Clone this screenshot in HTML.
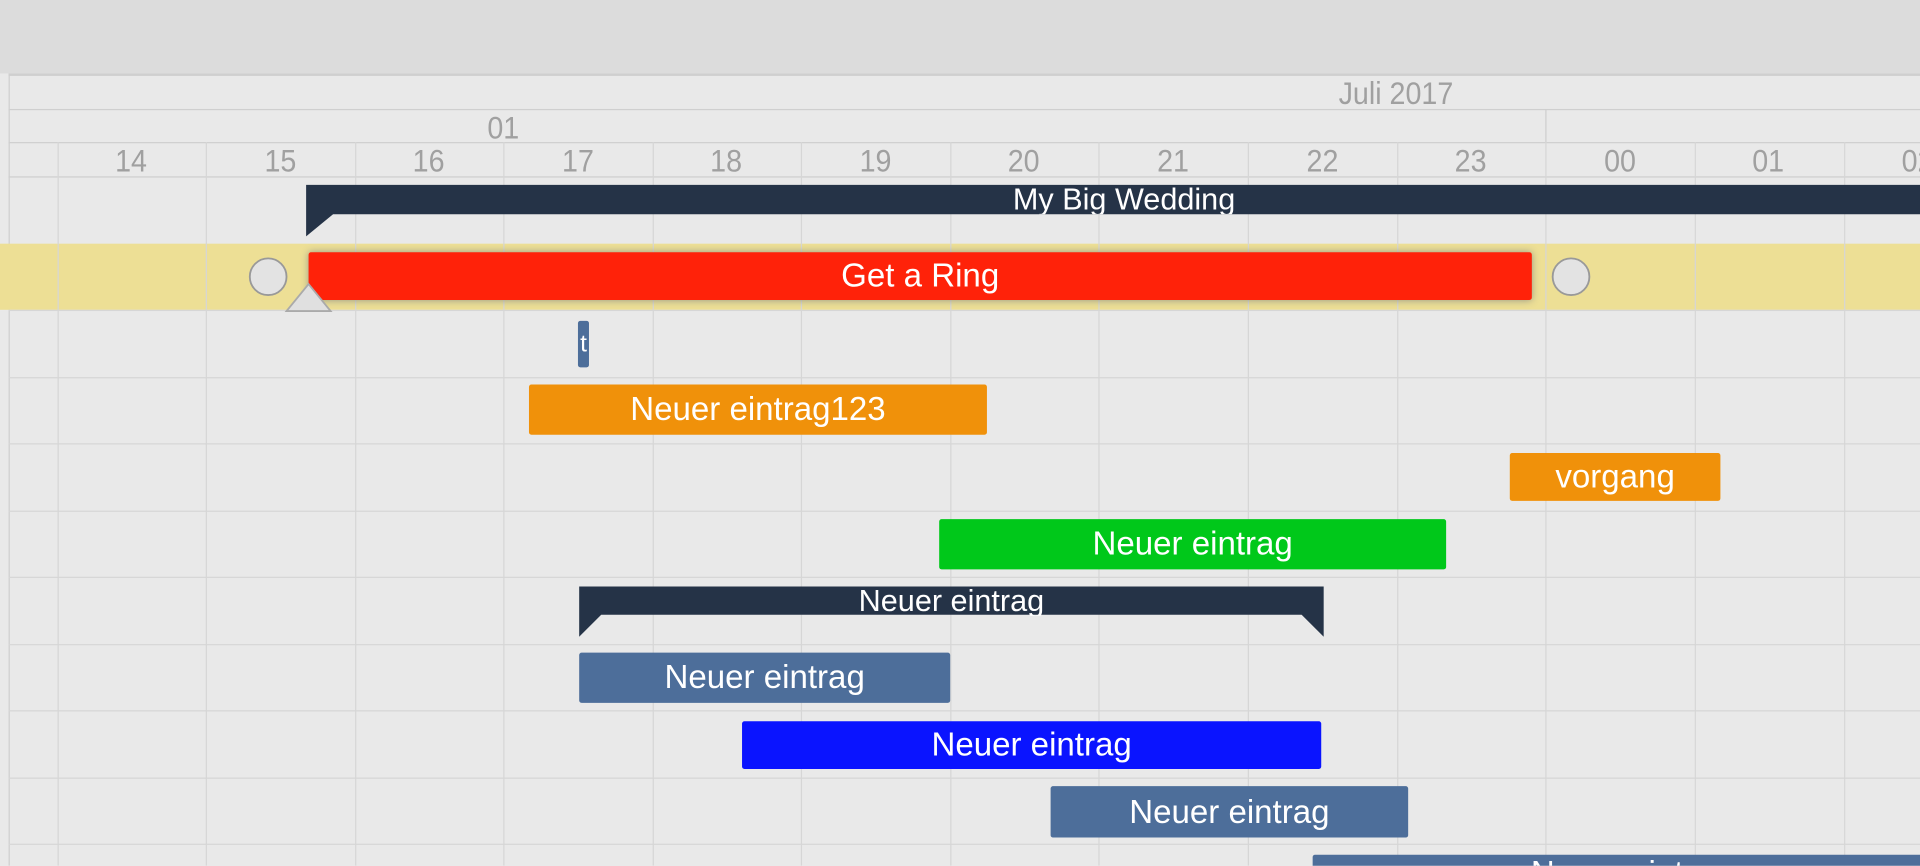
<!DOCTYPE html>
<html><head><meta charset="utf-8"><style>
html,body{margin:0;padding:0;width:1920px;height:866px;overflow:hidden;background:#e9e9e9}
#w{position:absolute;left:0;top:0;width:1568px;height:707px;transform:scale(1.22449);transform-origin:0 0;font-family:"Liberation Sans",sans-serif;overflow:hidden;background:#e9e9e9}
.a{position:absolute}
.vl{position:absolute;top:116px;bottom:0;width:1px;background:#d6d6d6}
.hl{position:absolute;left:7px;right:0;height:1px;background:#d6d6d6}
.h{position:absolute;color:#a0a0a0;font-size:26px;transform:translateX(-50%) scaleX(0.9);top:116px}
.bar{position:absolute;color:#fff;font-size:27px;display:flex;align-items:center;justify-content:center;border-radius:2px;white-space:nowrap;overflow:hidden}
</style></head><body><div id="w">
<div class="a" style="left:0;top:0;width:1568px;height:60px;background:#dcdcdc"></div>
<div class="a" style="left:7px;top:60px;width:1561px;height:2px;background:#cfcfcf"></div>
<div class="a" style="left:7px;top:60px;width:1px;height:647px;background:#cfcfcf"></div>
<div class="hl" style="top:89px;background:#cfcfcf"></div>
<div class="hl" style="top:116px;background:#cfcfcf"></div>
<div class="hl" style="top:144px;background:#cfcfcf"></div>
<div class="a" style="left:1262px;top:89px;width:1px;height:27px;background:#cfcfcf"></div>
<div class="a" style="left:0;top:199px;width:1568px;height:54px;background:#eddf95"></div>
<div class="hl" style="top:253px"></div><div class="hl" style="top:308px"></div><div class="hl" style="top:362px"></div><div class="hl" style="top:417px"></div><div class="hl" style="top:471px"></div><div class="hl" style="top:526px"></div><div class="hl" style="top:580px"></div><div class="hl" style="top:635px"></div><div class="hl" style="top:689px"></div>
<div class="vl" style="left:47px"></div><div class="vl" style="left:168px"></div><div class="vl" style="left:290px"></div><div class="vl" style="left:411px"></div><div class="vl" style="left:533px"></div><div class="vl" style="left:654px"></div><div class="vl" style="left:776px"></div><div class="vl" style="left:897px"></div><div class="vl" style="left:1019px"></div><div class="vl" style="left:1141px"></div><div class="vl" style="left:1262px"></div><div class="vl" style="left:1384px"></div><div class="vl" style="left:1506px"></div>
<div class="h" style="left:107px">14</div><div class="h" style="left:229px">15</div><div class="h" style="left:350px">16</div><div class="h" style="left:472px">17</div><div class="h" style="left:593px">18</div><div class="h" style="left:715px">19</div><div class="h" style="left:836px">20</div><div class="h" style="left:958px">21</div><div class="h" style="left:1080px">22</div><div class="h" style="left:1201px">23</div><div class="h" style="left:1323px">00</div><div class="h" style="left:1444px">01</div><div class="h" style="left:1566px">02</div>
<div class="h" style="left:411px;top:89px">01</div>
<div class="h" style="left:1140px;top:61px">Juli 2017</div>
<svg class="a" style="left:0;top:0" width="1568" height="707">
<path d="M250 151H1568V175H272L250 193Z" fill="#253347"/>
<path d="M473 479H1081V520L1063 502H491L473 520Z" fill="#253347"/>
<circle cx="219" cy="226" r="15" fill="#e3e3e3" stroke="#999" stroke-width="1.5"/>
<circle cx="1283" cy="226" r="15" fill="#e3e3e3" stroke="#999" stroke-width="1.5"/>
</svg>
<div class="bar" style="left:250px;top:151px;width:1336px;height:24px;font-size:25px">My Big Wedding</div>
<div class="bar" style="left:473px;top:479px;width:608px;height:24px;font-size:25px">Neuer eintrag</div>
<div class="bar" style="left:252px;top:206px;width:999px;height:39px;background:#ff2209;box-shadow:0 0 6px #998">Get a Ring</div>
<svg class="a" style="left:232px;top:228px" width="42" height="28"><path d="M2 26L20 4L38 26Z" fill="#e0e0e0" stroke="#aaa" stroke-width="1.5"/></svg>
<div class="bar" style="left:472px;top:262px;width:9px;height:38px;background:#4d6e9a;font-size:20px">t</div>
<div class="bar" style="left:432px;top:314px;width:374px;height:41px;background:#f0910a">Neuer eintrag123</div>
<div class="bar" style="left:1233px;top:370px;width:172px;height:39px;background:#f0910a">vorgang</div>
<div class="bar" style="left:767px;top:424px;width:414px;height:41px;background:#00c81a">Neuer eintrag</div>
<div class="bar" style="left:473px;top:533px;width:303px;height:41px;background:#4d6e9a">Neuer eintrag</div>
<div class="bar" style="left:606px;top:589px;width:473px;height:39px;background:#0a14ff">Neuer eintrag</div>
<div class="bar" style="left:858px;top:642px;width:292px;height:42px;background:#4d6e9a">Neuer eintrag</div>
<div class="bar" style="left:1072px;top:698px;width:520px;height:40px;background:#4d6e9a;align-items:flex-start">Neuer eintrag</div>
</div></body></html>
